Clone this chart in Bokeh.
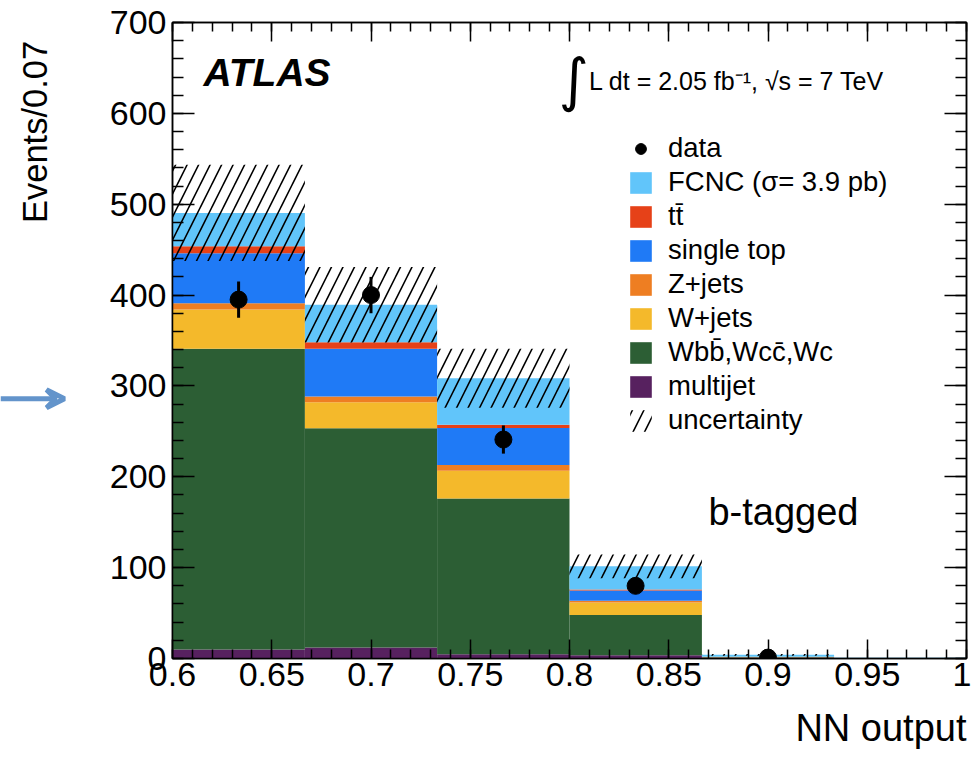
import numpy as np
from bokeh.plotting import figure
from bokeh.layouts import row
from bokeh.models import (LinearAxis, FixedTicker, CustomJSTickFormatter, Range1d,
                          Legend, LegendItem, Label, Arrow, VeeHead, Title)
from bokeh.embed import file_html
from bokeh.resources import INLINE

# ---- data ----
bin_edges = [0.6, 0.6667, 0.7333, 0.8, 0.8667, 0.9333, 1.0]
multijet = [10, 12, 4.6, 3.5, 1.0, 0.5]
wbb = [331, 241.4, 171.4, 44.5, 0.5, 0.0]
wjets = [43, 28.6, 30.7, 13.5, 0.3, 0.0]
zjets = [7, 6.3, 6.3, 2.0, 0.0, 0.0]
single_top = [55, 52.7, 40.8, 11.4, 0.2, 0.0]
ttbar = [7.7, 7.2, 3.6, 1.0, 0.0, 0.0]
fcnc = [36.7, 41.2, 51.1, 25.5, 2.0, 0.3]
uncertainty = [53, 41.5, 32.5, 13, 1.0, 0.0]

data_x = [0.6333, 0.7, 0.7667, 0.8333, 0.9]
data_y = [395, 400, 241, 80, 1]
data_err = [20, 20, 15.5, 9, 1]

x_ticks = [0.6, 0.65, 0.7, 0.75, 0.8, 0.85, 0.9, 0.95, 1.0]
x_tick_labels = ["0.6", "0.65", "0.7", "0.75", "0.8", "0.85", "0.9", "0.95", "1"]
y_ticks = [0, 100, 200, 300, 400, 500, 600, 700]
y_tick_labels = ["0", "100", "200", "300", "400", "500", "600", "700"]

components = [
    ("multijet", multijet, "#57215F"),
    ("Wbb̄,Wcc̄,Wc", wbb, "#2C5E34"),
    ("W+jets", wjets, "#F4B92B"),
    ("Z+jets", zjets, "#EE7E22"),
    ("single top", single_top, "#1F7AF6"),
    ("tt̄", ttbar, "#E64118"),
    ("FCNC (σ= 3.9 pb)", fcnc, "#61C5FA"),
]

FONT = "Liberation Sans"

# layout constants (pixels)
SIDE_W = 90
BORDER_LEFT = 82
BORDER_TOP = 22
BORDER_BOTTOM = 99
BORDER_RIGHT = 5
FRAME_W = 794
FRAME_H = 636
Y_MAX = 700
TOTAL_H = BORDER_TOP + FRAME_H + BORDER_BOTTOM

p = figure(x_range=Range1d(0.6, 1.0), y_range=Range1d(0, Y_MAX),
           frame_width=FRAME_W, frame_height=FRAME_H,
           min_border_left=BORDER_LEFT, min_border_right=BORDER_RIGHT,
           min_border_top=BORDER_TOP, min_border_bottom=BORDER_BOTTOM,
           output_backend="svg", toolbar_location=None)
p.xgrid.grid_line_color = None
p.ygrid.grid_line_color = None
p.outline_line_color = "black"
p.outline_line_width = 1.5
p.background_fill_color = "white"
p.border_fill_color = "white"

x_bottom = p.xaxis[0]
y_left = p.yaxis[0]

left = np.array(bin_edges[:-1])
right = np.array(bin_edges[1:])
bottom = np.zeros(len(left))
renderers = {}
for name, vals, color in components:
    top = bottom + np.array(vals, dtype=float)
    r = p.quad(left=left, right=right, bottom=bottom, top=top,
               fill_color=color, line_color=None)
    renderers[name] = r
    bottom = top
total = bottom
unc = np.array(uncertainty, dtype=float)
r_unc = p.quad(left=left, right=right, bottom=total - unc, top=total + unc,
               fill_color=None, fill_alpha=0, line_color=None,
               hatch_pattern="/", hatch_color="black", hatch_scale=23, hatch_weight=1.6)

dy = np.array(data_y, dtype=float)
de = np.array(data_err, dtype=float)
p.segment(x0=data_x, y0=dy - de, x1=data_x, y1=dy + de, line_color="black", line_width=3)
r_data = p.scatter(x=data_x, y=dy, size=17, marker="circle",
                   fill_color="black", line_color="black")

# ---- axes ----
x_minor = list(np.round(np.arange(0.6, 1.0001, 0.01), 3))
y_minor = list(range(0, Y_MAX + 1, 20))

def fmt(vals, labs):
    return CustomJSTickFormatter(args=dict(vals=vals, labs=labs), code="""
        for (let i = 0; i < vals.length; i++) {
            if (Math.abs(vals[i] - tick) < 1e-6) return labs[i];
        }
        return '';
    """)

top_axis = LinearAxis()
right_axis = LinearAxis()
p.add_layout(top_axis, "above")
p.add_layout(right_axis, "right")

for ax in [x_bottom, top_axis]:
    ax.ticker = FixedTicker(ticks=x_ticks, minor_ticks=x_minor)
    ax.formatter = fmt(x_ticks, x_tick_labels)
    ax.major_tick_in = 19
    ax.minor_tick_in = 9
for ax in [y_left, right_axis]:
    ax.ticker = FixedTicker(ticks=y_ticks, minor_ticks=y_minor)
    ax.formatter = fmt(y_ticks, y_tick_labels)
    ax.major_tick_in = 22
    ax.minor_tick_in = 11
for ax in [x_bottom, y_left, top_axis, right_axis]:
    ax.major_tick_out = 0
    ax.minor_tick_out = 0
    ax.axis_line_color = "black"
    ax.axis_line_width = 1.5
    ax.major_tick_line_color = "black"
    ax.minor_tick_line_color = "black"
    ax.major_tick_line_width = 1.5
    ax.minor_tick_line_width = 1.5
    ax.major_label_text_font = FONT
    ax.major_label_text_font_size = "34px"
    ax.major_label_text_color = "black"
for ax in [top_axis, right_axis]:
    ax.major_label_text_font_size = "0px"
    ax.major_label_text_alpha = 0
x_bottom.major_label_standoff = 4
y_left.major_label_standoff = 6

# ---- legend ----
items = [LegendItem(label="data", renderers=[r_data])]
for name in ["FCNC (σ= 3.9 pb)", "tt̄", "single top", "Z+jets", "W+jets", "Wbb̄,Wcc̄,Wc", "multijet"]:
    items.append(LegendItem(label=name, renderers=[renderers[name]]))
items.append(LegendItem(label="uncertainty", renderers=[r_unc]))
legend = Legend(items=items, location=(455, 222), padding=0, margin=0,
                spacing=2, glyph_width=27, glyph_height=27, label_height=27,
                label_standoff=14, label_text_font=FONT, label_text_font_size="27.5px",
                label_text_color="black", background_fill_alpha=0, border_line_alpha=0)
p.add_layout(legend, "center")

# ---- text annotations inside the frame ----
p.add_layout(Label(x=0.6156, y=645.5, text="ATLAS", text_font=FONT, text_font_size="39px",
                   text_font_style="bold italic", text_baseline="middle", text_color="black"))
p.add_layout(Label(x=0.7945, y=637, text="∫", text_font="DejaVu Sans", text_font_size="58px",
                   text_baseline="middle", text_color="black"))
p.add_layout(Label(x=0.8098, y=636, text="L dt = 2.05 fb⁻¹, √s = 7 TeV", text_font=FONT,
                   text_font_size="25px", text_baseline="middle", text_color="black"))
p.add_layout(Label(x=0.870, y=160.7, text="b-tagged", text_font=FONT, text_font_size="38px",
                   text_baseline="middle", text_color="black"))

p.add_layout(Title(text="NN output", align="right", text_font=FONT, text_font_size="38px",
                   text_font_style="normal", text_color="black", standoff=32), "below")

# ---- side panel: y-axis title and the pointing arrow ----
px_per_unit = FRAME_H / Y_MAX
side_top = (BORDER_TOP + FRAME_H) / px_per_unit
side_bottom = -BORDER_BOTTOM / px_per_unit
s = figure(x_range=Range1d(0, SIDE_W), y_range=Range1d(side_bottom, side_top),
           frame_width=SIDE_W, frame_height=TOTAL_H, min_border=0,
           x_axis_type=None, y_axis_type=None, output_backend="svg", toolbar_location=None)
s.xgrid.grid_line_color = None
s.ygrid.grid_line_color = None
s.outline_line_color = None
s.background_fill_color = "white"
s.border_fill_color = "white"

s.add_layout(Label(x=34, y=704, text="Events/0.07", text_font=FONT, text_font_size="34.5px",
                   angle=np.pi / 2, text_align="right", text_baseline="middle",
                   text_color="black"))
arrow_y = 310
s.add_layout(Arrow(x_start=0, y_start=arrow_y, x_end=64, y_end=arrow_y,
                   line_color="#6394CB", line_width=5,
                   end=VeeHead(size=18, line_color="#6394CB", line_width=5, fill_color=None)))

layout = row(s, p, spacing=0)
open("out.html", "w").write(file_html(layout, INLINE))
